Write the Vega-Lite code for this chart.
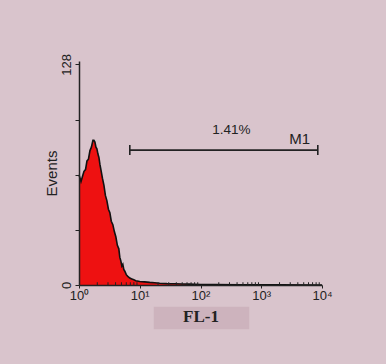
{
  "$schema": "https://vega.github.io/schema/vega-lite/v6.json",
  "width": 243,
  "height": 224,
  "autosize": {"type": "none"},
  "padding": {"left": 79, "top": 61, "right": 64, "bottom": 79},
  "background": "#d9c4cc",
  "config": {"view": {"stroke": null}, "font": "Liberation Sans"},
  "datasets": {
    "hist": [
      {"fl": 1.0, "events": 64}, {"fl": 1.04, "events": 62}, {"fl": 1.079, "events": 60},
      {"fl": 1.14, "events": 63}, {"fl": 1.208, "events": 66}, {"fl": 1.28, "events": 67},
      {"fl": 1.353, "events": 72}, {"fl": 1.43, "events": 73}, {"fl": 1.515, "events": 78},
      {"fl": 1.6, "events": 80}, {"fl": 1.696, "events": 84}, {"fl": 1.76, "events": 84},
      {"fl": 1.829, "events": 83}, {"fl": 1.9, "events": 80}, {"fl": 1.972, "events": 79},
      {"fl": 2.05, "events": 76}, {"fl": 2.128, "events": 74}, {"fl": 2.21, "events": 70},
      {"fl": 2.294, "events": 67}, {"fl": 2.43, "events": 62}, {"fl": 2.57, "events": 58},
      {"fl": 2.72, "events": 52}, {"fl": 2.877, "events": 49}, {"fl": 3.05, "events": 44},
      {"fl": 3.222, "events": 42}, {"fl": 3.4, "events": 37}, {"fl": 3.608, "events": 35},
      {"fl": 3.82, "events": 31}, {"fl": 4.041, "events": 28}, {"fl": 4.28, "events": 23},
      {"fl": 4.525, "events": 21}, {"fl": 4.7, "events": 16}, {"fl": 4.883, "events": 14},
      {"fl": 5.07, "events": 11}, {"fl": 5.26, "events": 12}, {"fl": 5.46, "events": 9},
      {"fl": 5.68, "events": 8}, {"fl": 6.0, "events": 6}, {"fl": 6.36, "events": 5},
      {"fl": 6.85, "events": 4}, {"fl": 7.39, "events": 3.5}, {"fl": 8.0, "events": 3},
      {"fl": 8.6, "events": 2.5}, {"fl": 10.0, "events": 2}, {"fl": 12.0, "events": 1.8},
      {"fl": 14.6, "events": 1.5}, {"fl": 17.5, "events": 1.3}, {"fl": 21.3, "events": 1},
      {"fl": 28.0, "events": 0.8}, {"fl": 37.5, "events": 0.7}, {"fl": 50.0, "events": 0.6},
      {"fl": 66.0, "events": 0.5}, {"fl": 100.0, "events": 0.3}, {"fl": 170.0, "events": 0.2},
      {"fl": 436.0, "events": 0.1}, {"fl": 2000.0, "events": 0.05}, {"fl": 10000.0, "events": 0}
    ],
    "marker": [{"x1": 6.86, "x2": 8530, "y": 78.3, "ylo": 75.4, "yhi": 81.2}],
    "pct": [{"x": 322, "y": 89.7, "text": "1.41%"}],
    "mname": [{"x": 4300, "y": 84.6, "text": "M1"}],
    "box": [{"x1": 17, "x2": 634, "y1": -12.6, "y2": -25.7}],
    "minor": [
      {"v": 2}, {"v": 3}, {"v": 4}, {"v": 5}, {"v": 6}, {"v": 7}, {"v": 8}, {"v": 9},
      {"v": 20}, {"v": 30}, {"v": 40}, {"v": 50}, {"v": 60}, {"v": 70}, {"v": 80}, {"v": 90},
      {"v": 200}, {"v": 300}, {"v": 400}, {"v": 500}, {"v": 600}, {"v": 700}, {"v": 800}, {"v": 900},
      {"v": 2000}, {"v": 3000}, {"v": 4000}, {"v": 5000}, {"v": 6000}, {"v": 7000}, {"v": 8000}, {"v": 9000}
    ]
  },
  "layer": [
    {
      "data": {"name": "box"},
      "mark": {"type": "rect", "color": "#cdb3bd"},
      "encoding": {
        "x": {"field": "x1", "type": "quantitative", "scale": {"type": "log", "domain": [1, 10000]}},
        "x2": {"field": "x2"},
        "y": {"field": "y1", "type": "quantitative", "scale": {"domain": [0, 128]}},
        "y2": {"field": "y2"}
      }
    },
    {
      "data": {"name": "hist"},
      "mark": {"type": "area", "color": "#ee1111", "opacity": 1, "line": {"color": "#111111", "strokeWidth": 1.6}, "interpolate": "linear"},
      "encoding": {
        "x": {
          "field": "fl", "type": "quantitative",
          "scale": {"type": "log", "domain": [1, 10000]},
          "axis": {
            "values": [1, 10, 100, 1000, 10000],
            "labelExpr": "datum.value == 1 ? '10⁰' : datum.value == 10 ? '10¹' : datum.value == 100 ? '10²' : datum.value == 1000 ? '10³' : '10⁴'",
            "title": "FL-1",
            "titleFont": "Liberation Serif",
            "titleFontSize": 17,
            "titleFontWeight": "bold",
            "titleColor": "#222222",
            "titlePadding": 6,
            "labelFont": "Liberation Sans",
            "labelFontSize": 13,
            "labelColor": "#222222",
            "labelPadding": 1,
            "labelFlush": false,
            "labelOverlap": false,
            "domainColor": "#222222",
            "domainWidth": 1.5,
            "tickColor": "#222222",
            "tickSize": 3,
            "grid": false,
            "zindex": 1
          }
        },
        "y": {
          "field": "events", "type": "quantitative",
          "scale": {"domain": [0, 128]},
          "axis": {
            "values": [0, 32, 64, 96, 128],
            "labelExpr": "datum.value == 0 || datum.value == 128 ? datum.label : ''",
            "labelAngle": -90,
            "labelAlign": "center",
            "labelBaseline": "bottom",
            "labelFontSize": 13,
            "labelColor": "#222222",
            "labelPadding": 2,
            "title": "Events",
            "titleFontSize": 15,
            "titleFontWeight": "normal",
            "titleColor": "#222222",
            "titlePadding": 1,
            "domainColor": "#222222",
            "domainWidth": 1.5,
            "tickColor": "#222222",
            "tickSize": 4,
            "grid": false,
            "zindex": 1
          }
        }
      }
    },
    {
      "data": {"name": "minor"},
      "mark": {"type": "rule", "color": "#222222", "strokeWidth": 1},
      "encoding": {
        "x": {"field": "v", "type": "quantitative"},
        "y": {"datum": 0},
        "y2": {"datum": 1.6}
      }
    },
    {
      "data": {"name": "marker"},
      "mark": {"type": "rule", "color": "#222222", "strokeWidth": 1.6},
      "encoding": {
        "x": {"field": "x1", "type": "quantitative"},
        "x2": {"field": "x2"},
        "y": {"field": "y", "type": "quantitative"}
      }
    },
    {
      "data": {"name": "marker"},
      "mark": {"type": "rule", "color": "#222222", "strokeWidth": 1.6},
      "encoding": {
        "x": {"field": "x1", "type": "quantitative"},
        "y": {"field": "ylo", "type": "quantitative"},
        "y2": {"field": "yhi"}
      }
    },
    {
      "data": {"name": "marker"},
      "mark": {"type": "rule", "color": "#222222", "strokeWidth": 1.6},
      "encoding": {
        "x": {"field": "x2", "type": "quantitative"},
        "y": {"field": "ylo", "type": "quantitative"},
        "y2": {"field": "yhi"}
      }
    },
    {
      "data": {"name": "pct"},
      "mark": {"type": "text", "fontSize": 13.5, "color": "#222222", "font": "Liberation Sans"},
      "encoding": {
        "x": {"field": "x", "type": "quantitative"},
        "y": {"field": "y", "type": "quantitative"},
        "text": {"field": "text"}
      }
    },
    {
      "data": {"name": "mname"},
      "mark": {"type": "text", "fontSize": 15, "color": "#222222", "font": "Liberation Sans"},
      "encoding": {
        "x": {"field": "x", "type": "quantitative"},
        "y": {"field": "y", "type": "quantitative"},
        "text": {"field": "text"}
      }
    }
  ]
}
